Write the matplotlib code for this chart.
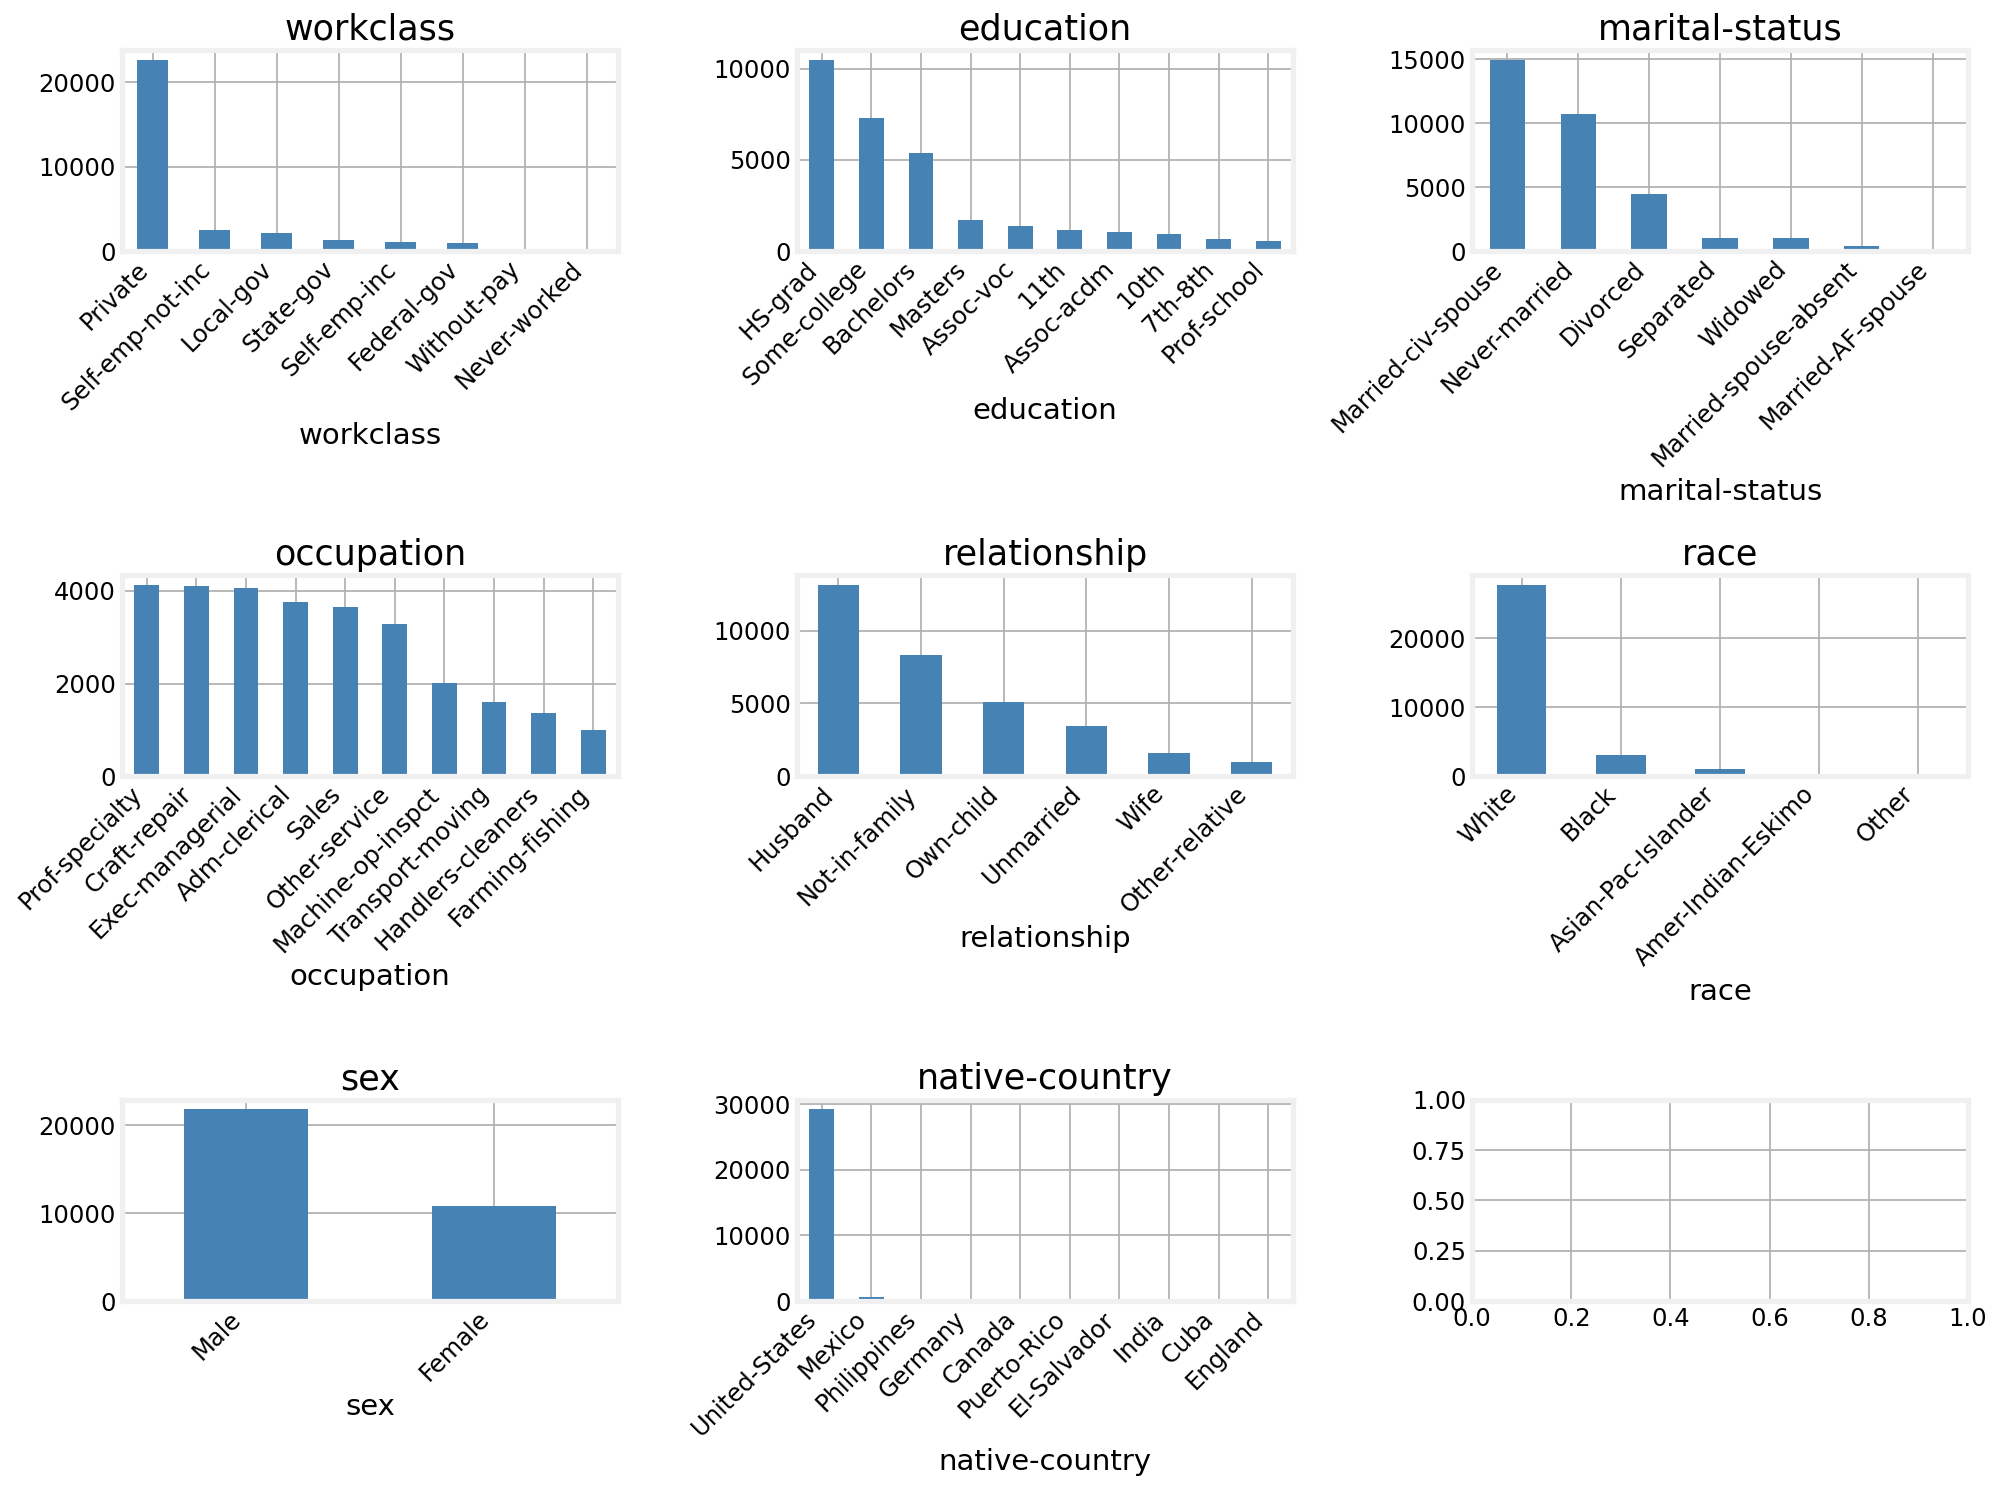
import matplotlib
matplotlib.use("Agg")
import matplotlib.pyplot as plt

plt.style.use("fivethirtyeight")
plt.rcParams["axes.facecolor"] = "white"
plt.rcParams["figure.facecolor"] = "white"
plt.rcParams["savefig.facecolor"] = "white"
plt.rcParams["grid.color"] = "#b0b0b0"
plt.rcParams["grid.linewidth"] = 1.0

# value counts of the categorical columns
workclass = ["Private", "Self-emp-not-inc", "Local-gov", "State-gov", "Self-emp-inc",
             "Federal-gov", "Without-pay", "Never-worked"]
workclass_n = [22696, 2541, 2093, 1298, 1116, 960, 14, 7]

education = ["HS-grad", "Some-college", "Bachelors", "Masters", "Assoc-voc", "11th",
             "Assoc-acdm", "10th", "7th-8th", "Prof-school"]
education_n = [10501, 7291, 5355, 1723, 1382, 1175, 1067, 933, 646, 576]

marital = ["Married-civ-spouse", "Never-married", "Divorced", "Separated", "Widowed",
           "Married-spouse-absent", "Married-AF-spouse"]
marital_n = [14976, 10683, 4443, 1025, 993, 418, 23]

occupation = ["Prof-specialty", "Craft-repair", "Exec-managerial", "Adm-clerical", "Sales",
              "Other-service", "Machine-op-inspct", "Transport-moving", "Handlers-cleaners",
              "Farming-fishing"]
occupation_n = [4140, 4099, 4066, 3770, 3650, 3295, 2002, 1597, 1370, 994]

relationship = ["Husband", "Not-in-family", "Own-child", "Unmarried", "Wife", "Other-relative"]
relationship_n = [13193, 8305, 5068, 3446, 1568, 981]

race = ["White", "Black", "Asian-Pac-Islander", "Amer-Indian-Eskimo", "Other"]
race_n = [27816, 3124, 1039, 311, 271]

sex = ["Male", "Female"]
sex_n = [21790, 10771]

country = ["United-States", "Mexico", "Philippines", "Germany", "Canada", "Puerto-Rico",
           "El-Salvador", "India", "Cuba", "England"]
country_n = [29170, 643, 198, 137, 121, 114, 106, 100, 95, 90]

columns = [
    ("workclass", workclass, workclass_n),
    ("education", education, education_n),
    ("marital-status", marital, marital_n),
    ("occupation", occupation, occupation_n),
    ("relationship", relationship, relationship_n),
    ("race", race, race_n),
    ("sex", sex, sex_n),
    ("native-country", country, country_n),
]

fig, axes = plt.subplots(3, 3, figsize=(16, 11.936), dpi=125)
axes = axes.flatten()

for ax, (name, cats, counts) in zip(axes, columns):
    x = range(len(cats))
    ax.bar(x, counts, width=0.5, color="steelblue")
    ax.set_xlim(-0.5, len(cats) - 0.5)
    ax.set_xticks(list(x))
    ax.set_xticklabels(cats, rotation=45, ha="right")
    ax.set_title(name)
    ax.set_xlabel(name)

fig.subplots_adjust(left=0.061, right=0.984, top=0.9665, bottom=0.128,
                    wspace=0.361, hspace=1.61)
plt.savefig("out.png", dpi=125)
